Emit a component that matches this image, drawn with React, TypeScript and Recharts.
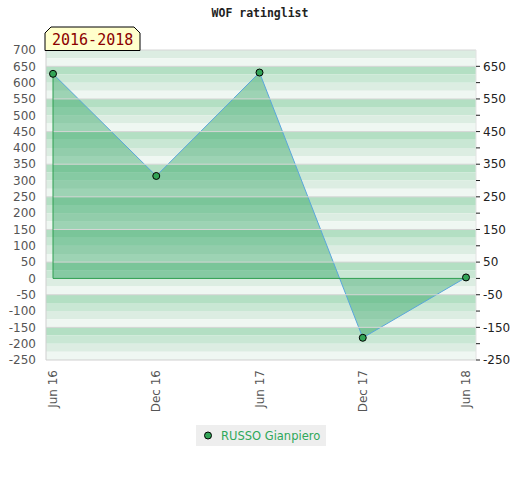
import {
  Area,
  ComposedChart,
  Legend,
  ReferenceArea,
  ReferenceLine,
  XAxis,
  YAxis
} from "recharts";

const months = ["Jun 16", "Dec 16", "Jun 17", "Dec 17", "Jun 18"];
const ratings = [627, 314, 631, -182, 3];
const leftTicks = [700, 650, 600, 550, 500, 450, 400, 350, 300, 250, 200, 150, 100, 50, 0, -50, -100, -150, -200, -250];
const rightTicks = [650, 600, 550, 500, 450, 400, 350, 300, 250, 200, 150, 100, 50, 0, -50, -100, -150, -200, -250];
const playerName = "RUSSO Gianpiero";
const periodLabel = "2016-2018";

const data = months.map((month, i) => ({ month, rating: ratings[i] }));

const yMax = leftTicks[0];
const yMin = leftTicks[leftTicks.length - 1];
const stripeColors = ["#dcede2", "#eff7f2", "#b3dfc3", "#c9e7d4"];
const stripes: { y1: number; y2: number; color: string }[] = [];
for (let v = yMax, i = 0; v > yMin; v -= 25, i++) {
  stripes.push({ y1: v - 25, y2: v, color: stripeColors[i % stripeColors.length] });
}
const gridLines = rightTicks.filter((v) => Math.abs(v % 100) === 50 && v > yMin);

const font = "'DejaVu Sans', sans-serif";

function MonthTick(props: any) {
  const { x, y, payload } = props;
  return (
    <g transform={`translate(${x},${y})`}>
      <text transform="rotate(-90)" textAnchor="end" dy="0.35em" fill="#555" fontSize={12} fontFamily={font}>
        {payload.value}
      </text>
    </g>
  );
}

function LegendBox() {
  return (
    <div
      style={{
        background: "#eeeeee",
        height: 21,
        width: 130,
        display: "flex",
        alignItems: "center",
        fontFamily: font,
        fontSize: 11.5,
        color: "#2ea85a"
      }}
    >
      <svg width={25} height={21}>
        <circle cx={12} cy={10.5} r={3.5} fill="#33a457" stroke="#000" strokeWidth={1} />
      </svg>
      <span>{playerName}</span>
    </div>
  );
}

export default function App() {
  return (
    <div style={{ position: "absolute", left: 0, top: 0, width: 520, height: 480, background: "#fff" }}>
      <div
        style={{
          position: "absolute",
          left: 0,
          top: 6,
          width: 520,
          textAlign: "center",
          fontFamily: "'DejaVu Sans Mono', monospace",
          fontWeight: "bold",
          fontSize: 11.5,
          lineHeight: "14px",
          color: "#222"
        }}
      >
        WOF ratinglist
      </div>
      <ComposedChart width={520} height={480} data={data} margin={{ top: 50, right: 0, bottom: 0, left: 0 }}>
        <XAxis xAxisId="bg" type="number" domain={[0, 1]} allowDataOverflow hide />
        {stripes.map((s, i) => (
          <ReferenceArea
            key={`s-${i}`}
            xAxisId="bg"
            yAxisId="left"
            y1={s.y1}
            y2={s.y2}
            fill={s.color}
            fillOpacity={1}
            stroke="none"
          />
        ))}
        {gridLines.map((v) => (
          <ReferenceLine key={`g-${v}`} xAxisId="bg" yAxisId="left" y={v} stroke="#d6d6d6" strokeWidth={1} />
        ))}
        <ReferenceLine xAxisId="bg" yAxisId="left" y={yMax} stroke="#d6d6d6" strokeWidth={1} />
        <XAxis
          dataKey="month"
          tick={<MonthTick />}
          tickSize={0}
          tickMargin={10}
          interval={0}
          height={99}
          padding={{ left: 7, right: 10 }}
          axisLine={{ stroke: "#cfcfcf" }}
        />
        <YAxis
          yAxisId="left"
          domain={[yMin, yMax]}
          ticks={leftTicks}
          interval={0}
          width={46}
          tickSize={0}
          tickMargin={10}
          tick={{ fill: "#555", fontSize: 12, fontFamily: font }}
          axisLine={{ stroke: "#cfcfcf" }}
        />
        <YAxis
          yAxisId="right"
          orientation="right"
          domain={[yMin, yMax]}
          ticks={rightTicks}
          interval={0}
          width={44}
          tickSize={4}
          tickMargin={3}
          tickLine={{ stroke: "#222" }}
          tickFormatter={(v: number) => (Math.abs(v % 100) === 50 ? String(v) : "")}
          tick={{ fill: "#222", fontSize: 12, fontFamily: font, textAnchor: "start" }}
          axisLine={{ stroke: "#e2e2e2" }}
        />
        <Area
          yAxisId="left"
          dataKey="rating"
          type="linear"
          baseValue={0}
          stroke="#5aa6dc"
          strokeWidth={1}
          fill="#2ca25f"
          fillOpacity={0.42}
          dot={false}
          activeDot={false}
          isAnimationActive={false}
        />
        <ReferenceLine
          yAxisId="left"
          segment={[
            { x: months[0], y: 0 },
            { x: months[months.length - 1], y: 0 }
          ]}
          stroke="#2e9e50"
          strokeWidth={1}
        />
        <ReferenceLine
          yAxisId="left"
          segment={[
            { x: months[0], y: 0 },
            { x: months[0], y: ratings[0] }
          ]}
          stroke="#2e9e50"
          strokeWidth={1}
        />
        <Area
          yAxisId="right"
          dataKey="rating"
          type="linear"
          stroke="none"
          fill="none"
          dot={{ r: 3.5, fill: "#33a457", fillOpacity: 1, stroke: "#000", strokeWidth: 1 }}
          activeDot={false}
          legendType="none"
          isAnimationActive={false}
        />
        <Legend
          verticalAlign="bottom"
          content={<LegendBox />}
          wrapperStyle={{ position: "absolute", left: 196, top: 425, bottom: "auto", width: 130, height: 21 }}
        />
      </ComposedChart>
      <svg style={{ position: "absolute", left: 44, top: 26 }} width={98} height={26}>
        <polygon points="1,7 7,1 90,1 96,7 96,24.5 1,24.5" fill="#ffffcc" stroke="#000" strokeWidth={1} />
        <text x={8} y={19} fontSize={15} fill="#8b0000" fontFamily="'DejaVu Sans Mono', monospace">
          {periodLabel}
        </text>
      </svg>
    </div>
  );
}
